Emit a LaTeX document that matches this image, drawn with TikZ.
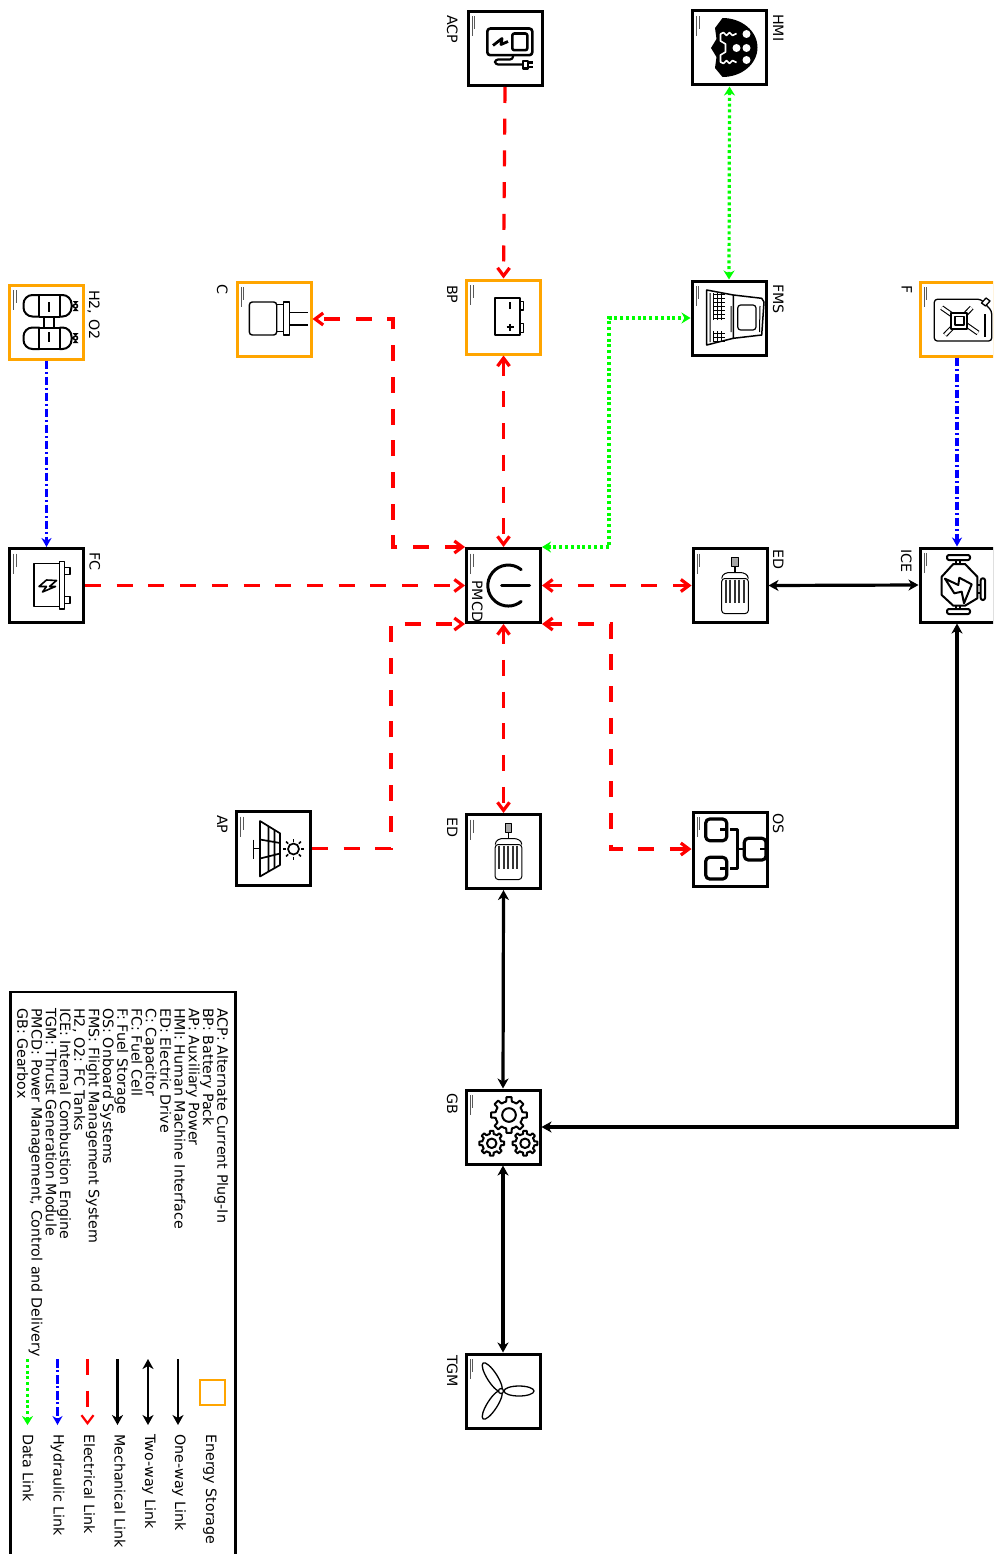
\documentclass[tikz,border=0pt]{standalone}
\usepackage{fontspec}
\setmainfont{DejaVu Sans}
\usetikzlibrary{arrows.meta}
\definecolor{storeorange}{HTML}{FFA500}
\tikzset{
  blackbox/.style={draw=black, line width=3pt, fill=white, minimum size=74pt, inner sep=0pt},
  storebox/.style={draw=storeorange, line width=3pt, fill=white, minimum size=74pt, inner sep=0pt},
  tag/.style={rotate=-90, anchor=base west, inner sep=0pt, font=\fontsize{14.26}{14.3}\selectfont},
  mechlink/.style={draw=black, line width=3.2pt, >={Stealth[length=10pt,width=11pt,inset=3pt]}},
  elink/.style={draw=red, line width=3.2pt, dash pattern=on 16pt off 15.7pt},
  hlink/.style={draw=blue, line width=3.2pt, dash pattern=on 8.6pt off 2.7pt on 2pt off 2.7pt, >={Stealth[length=9pt,width=10pt]}},
  dlink/.style={draw=green, line width=3.2pt, dash pattern=on 3pt off 2.8pt, >={Stealth[length=9pt,width=11pt]}},
  keyline/.style={line width=2.2pt},
  icon/.style={draw=black, line width=2pt, line join=round},
  credit/.style={draw=black!65, line width=1pt},
  creditmark/.pic={
    \draw[credit] (-33,-32) -- (-33,-12);
    \draw[credit] (-30.5,-32) -- (-30.5,-19);
  },
  plugicon/.pic={
    \draw[icon,line width=2.6pt,rounded corners=3pt] (-17.7,-20) rectangle (27.3,6.7);
    \draw[icon,line width=2.6pt,rounded corners=2pt] (7.3,-15) rectangle (22.3,1.7);
    \draw[icon,line width=2.8pt] (-12,-3) -- (-3,-10) -- (-4,-4) -- (3,-7);
    \draw[icon,line width=2.2pt,rounded corners=3pt] (8,6.7) -- (8,11) -- (-10,11) -- (-10,16) -- (18,16);
    \draw[icon,line width=2.2pt,fill=white] (18,12.5) rectangle (23,20);
    \draw[icon,line width=2.2pt] (23,14) -- (28,14) (23,18.5) -- (28,18.5);
  },
  headicon/.pic={
    \fill[black] (-7,-30) arc[start angle=90,end angle=-90,x radius=35pt,y radius=29.5pt]
      -- (-14.5,20) -- (-13,9) -- (-18.5,0) -- (-13,-9) -- (-14.5,-20) -- cycle;
    \draw[white,line width=1.6pt,line join=round] (-9,-14) -- (-6,-15.5) -- (-3,-12.5) -- (0,-15.5) -- (3,-12.5) -- (7,-14.5)
      (-9,-14) -- (-9,-7) -- (-4,-4) -- (-4,4) -- (-9,7) -- (-9,14)
      -- (-6,15.5) -- (-3,12.5) -- (0,15.5) -- (3,12.5) -- (7,14.5);
    \fill[white] (17,-14) circle[radius=4pt] (7,0) circle[radius=4pt] (17,0) circle[radius=4pt] (17,12) circle[radius=4pt];
  },
  tankicon/.pic={
    \draw[icon,rounded corners=9pt] (-7,-27) -- (-23,-27) -- (-23,-5.5) -- (-7,-5.5);
    \draw[icon,rounded corners=9pt] (-7,5.5) -- (-23,5.5) -- (-23,27) -- (-7,27);
    \draw[icon] (-7.5,-27) -- (-7.5,-5.5) (13,-27) -- (13,-5.5) (-7.5,5.5) -- (-7.5,27) (13,5.5) -- (13,27);
    \draw[icon] (-7.5,-27) -- (13,-27) (-7.5,-5.5) -- (13,-5.5) (-7.5,5.5) -- (13,5.5) (-7.5,27) -- (13,27);
    \draw[icon,rounded corners=9pt] (13,-27) -- (25,-27) -- (25,-5.5) -- (13,-5.5);
    \draw[icon,rounded corners=9pt] (13,5.5) -- (25,5.5) -- (25,27) -- (13,27);
    \draw[icon] (2.5,-20) -- (2.5,-10) (2.5,10) -- (2.5,20);
    \draw[icon] (-2.5,-5.5) -- (-2.5,5.5) (7,-5.5) -- (7,5.5);
    \draw[icon,line width=1.5pt] (25,-16) -- (29,-16) (25,16) -- (29,16);
    \draw[icon,line width=1.5pt,fill=white] (29,-16) circle[radius=2pt] (29,16) circle[radius=2pt];
    \fill[black] (26,-21) -- (32,-21) -- (29,-18) -- cycle (26,-11) -- (32,-11) -- (29,-14) -- cycle
      (26,11) -- (32,11) -- (29,14) -- cycle (26,21) -- (32,21) -- (29,18) -- cycle;
  },
  capicon/.pic={
    \draw[icon,line width=1.4pt,rounded corners=3pt] (2.7,-17) -- (-24.7,-17) -- (-24.7,16) -- (2.7,16) -- cycle;
    \draw[icon,line width=1.4pt] (2.7,-14.7) rectangle (9.3,12.7);
    \draw[icon,line width=1.4pt] (9.3,-17) rectangle (15.3,16);
    \draw[icon,line width=1.4pt] (15.3,-6.3) -- (34.3,-6.3) (15.3,6) -- (34.3,6);
  },
  batticon/.pic={
    \draw[icon] (-8.5,-19.3) rectangle (16,18);
    \draw[icon,line width=1.5pt] (16,-15.3) rectangle (20,-7) (16,6.3) rectangle (20,15.3);
    \draw[icon] (6.5,-14.7) -- (6.5,-7.7) (6.5,6.8) -- (6.5,13.8) (3,10.3) -- (10,10.3);
  },
  laptopicon/.pic={
    \draw[icon,line width=1.5pt] (4.3,-23) -- (-22.3,-28) -- (-22.3,27) -- (4.3,20.3) -- cycle;
    \draw[icon,line width=1.5pt] (4.3,-23) -- (32.7,-19.7) -- (35,-16) -- (32.7,17) -- (4.3,20.3);
    \draw[icon,line width=1.2pt,rounded corners=3pt] (8.7,-13) rectangle (27,12);
    \draw[icon,line width=1pt] (-19,-25) -- (-19,24) (2,-12) -- (2,14) (31,-12) -- (30.5,14);
    \draw[icon,line width=1pt,step=3.9pt] (-15.7,-24.7) grid (-4,2);
    \draw[icon,line width=1pt,step=3.9pt] (-15.7,13) grid (-4,23.7);
  },
  canicon/.pic={
    \draw[icon,line width=1.3pt,rounded corners=3pt] (-22.7,-19.7) -- (24,-19.7) -- (34.7,-8) -- (34.7,22) -- (-22.7,22) -- cycle;
    \draw[icon,line width=1.3pt,rounded corners=1pt] (28,-5) -- (28,18);
    \draw[icon,line width=1.3pt,fill=white] (24.5,-16) -- (29,-21) -- (33,-18) -- (28.5,-13) -- cycle;
    \draw[black,line width=5pt] (-15.3,-11.3) -- (21,14) (14.7,-11.3) -- (-12,16);
    \draw[white,line width=2.8pt] (-15.3,-11.3) -- (21,14) (14.7,-11.3) -- (-12,16);
    \draw[icon,line width=1.3pt,fill=white] (-6,-6) rectangle (10,10);
    \draw[icon,line width=1.3pt] (-2,-2.3) rectangle (7,6);
  },
  cellicon/.pic={
    \draw[icon,line width=1.6pt] (-12.5,-22) rectangle (13,21);
    \draw[icon,line width=1.6pt] (13,-24) rectangle (18,23.5);
    \draw[icon,line width=1.6pt] (18,-18) rectangle (23.5,-11) (18,11) rectangle (23.5,18);
    \draw[icon,line width=1.6pt] (10,-5) -- (0,-5.5) -- (-7.5,1) -- (0,1) -- (-4,6.5) -- (9,1) -- (3,1) -- cycle;
  },
  powericon/.pic={
    \draw[icon,line width=3pt,line cap=round] (17.7,-15.9) arc[start angle=51,end angle=309,radius=20.5pt];
    \draw[icon,line width=3pt,line cap=round] (-2,0) -- (26,0);
  },
  motoricon/.pic={
    \draw[icon,line width=1pt,fill=black!35] (1.7,-28) rectangle (8.3,-19.5);
    \draw[icon,line width=1.5pt] (5,-19.5) -- (5,-12.5);
    \draw[icon,line width=1pt] (-8.3,-7) .. controls (-8,-12) and (-3,-13) .. (0,-13) -- (10,-13) .. controls (14,-13) and (18,-11) .. (18.3,-7);
    \draw[icon,line width=1pt,rounded corners=3pt] (-8.3,-7) rectangle (18.3,28);
    \draw[black!80,line width=2pt] (-4.3,-6) -- (-4.3,17) (0,-6) -- (0,17) (4.6,-6) -- (4.6,17) (9,-6) -- (9,17) (13.5,-6) -- (13.5,17);
  },
  engineicon/.pic={
    \draw[icon] (-3.7,-21) -- (8,-21) -- (20.3,-8.3) -- (20.3,13.3) -- (8,20.7) -- (-3.7,20.7) -- (-15.3,10) -- (-15.3,-8.3) -- cycle;
    \draw[icon,rounded corners=2pt] (-10,-30) rectangle (13,-25) (-10,24) rectangle (13,29) (23.7,-6.7) rectangle (28,15);
    \draw[icon] (-1,-25) -- (-1,-21) (3,-25) -- (3,-21) (-1,24) -- (-1,20.7) (3,24) -- (3,20.7) (20.3,0) -- (23.7,0) (20.3,8) -- (23.7,8);
    \draw[icon] (-12,-6.3) -- (1.3,0) -- (2.3,-7.3) -- (14.7,-0.7) -- (7,18.3) -- (4.7,6.7) -- (-2.7,8.3) -- cycle;
  },
  solaricon/.pic={
    \draw[icon,line width=1.7pt] (-13.5,-27.5) -- (6.5,-15.2) -- (6.5,16.5) -- (-13.5,28) -- cycle;
    \draw[icon,line width=1.7pt] (-5,-22.5) -- (-5,23) (1,-18.5) -- (1,19.5) (-13.5,-9) -- (6.5,-5.5) (-13.5,10) -- (6.5,5);
    \draw[icon,line width=1.7pt] (-20,0) -- (-13.5,0) (-20,-9) -- (-20,10);
    \draw[icon,line width=1.7pt] (20,0.5) circle[radius=5.5pt];
    \foreach \a in {0,45,...,315} {
      \draw[icon,line width=1.5pt] (20,0.5) ++(\a:7.5) -- ++(\a:3);
    }
  },
  netboxicon/.pic={
    \draw[icon,line width=3.2pt,rounded corners=4pt] (-24.3,-30) rectangle (-3.3,-8.3) (-24.3,8.3) rectangle (-3.3,30) (14.3,-10.7) rectangle (36,11);
    \draw[icon,line width=2.8pt] (-10,-19.7) -- (-3.3,-19.7) (-10,19.3) -- (-3.3,19.3) (30,0) -- (36,0);
    \draw[icon,line width=2.8pt] (0,-19.7) -- (7.3,-19.7) -- (7.3,19.3) -- (0,19.3) (7.3,0) -- (13,0);
  },
  pics/cogwheel/.style={code={
    \draw[icon] (-22.5:{0.76*#1}) \foreach \a in {0,45,...,315} {
      -- ({\a-22.5}:{0.76*#1}) -- ({\a-12}:{0.76*#1}) -- ({\a-8}:{#1}) -- ({\a+8}:{#1}) -- ({\a+12}:{0.76*#1})
    } -- cycle;
    \draw[icon] (0,0) circle[radius={0.38*#1 pt}];
  }},
  fanicon/.pic={
    \draw[icon,line width=1.3pt] (16,0) ellipse[x radius=15pt,y radius=5pt];
    \draw[icon,line width=1.3pt,shift={(-10.7,-13.7)},rotate=122.6] (0,0) ellipse[x radius=17pt,y radius=5pt];
    \draw[icon,line width=1.3pt,shift={(-10.7,13.7)},rotate=237.4] (0,0) ellipse[x radius=17pt,y radius=5pt];
    \draw[icon,line width=1.3pt,fill=white] (-2,0) circle[radius=2.5pt];
  },
}
\begin{document}
\begin{tikzpicture}[x=1pt,y=-1pt,>={Straight Barb[length=8pt,width=12pt]}]
  \clip (0,0) rectangle (993,1554);

  \node[blackbox] (ACP)  at (505,48.5)   {};
  \node[blackbox] (HMI)  at (729.5,48)   {};
  \node[storebox] (TK)   at (46.5,322)   {};
  \node[storebox] (CAP)  at (274,319)    {};
  \node[storebox] (BP)   at (503.5,317)  {};
  \node[blackbox] (FMS)  at (729,318)    {};
  \node[storebox] (FS)   at (957,319)    {};
  \node[blackbox] (FC)   at (46.5,585.5) {};
  \node[blackbox] (PMCD) at (503.5,585.5) {};
  \node[blackbox] (EDA)  at (730,585.5)  {};
  \node[blackbox] (ICE)  at (957,585)    {};
  \node[blackbox] (AP)   at (273.5,848.5) {};
  \node[blackbox] (EDB)  at (503.5,851.5) {};
  \node[blackbox] (OS)   at (730,849)    {};
  \node[blackbox] (GB)   at (503,1127)   {};
  \node[blackbox] (TGM)  at (503,1391)   {};

  \pic at (ACP)  {plugicon};
  \pic at (HMI)  {headicon};
  \pic at (TK)   {tankicon};
  \pic at (CAP)  {capicon};
  \pic at (BP)   {batticon};
  \pic at (FMS)  {laptopicon};
  \pic at (FS)   {canicon};
  \pic at (FC)   {cellicon};
  \pic at (PMCD) {powericon};
  \pic at (EDA)  {motoricon};
  \pic at (ICE)  {engineicon};
  \pic at (AP)   {solaricon};
  \pic at (EDB)  {motoricon};
  \pic at (OS)   {netboxicon};
  \pic at ([shift={(6,-12)}]GB.center)    {cogwheel=18};
  \pic at ([shift={(-11.3,16.3)}]GB.center) {cogwheel=12.5};
  \pic at ([shift={(22,16.3)}]GB.center)  {cogwheel=12.5};
  \pic at (TGM)  {fanicon};

  \pic at (ACP)  {creditmark};
  \pic at (HMI)  {creditmark};
  \pic at (TK)   {creditmark};
  \pic at (CAP)  {creditmark};
  \pic at (BP)   {creditmark};
  \pic at (FMS)  {creditmark};
  \pic at (FS)   {creditmark};
  \pic at (FC)   {creditmark};
  \pic at (PMCD) {creditmark};
  \pic at (EDA)  {creditmark};
  \pic at (ICE)  {creditmark};
  \pic at (AP)   {creditmark};
  \pic at (EDB)  {creditmark};
  \pic at (OS)   {creditmark};
  \pic at (GB)   {creditmark};
  \pic at (TGM)  {creditmark};

  \node[tag] (tACP)  at (447,15)    {ACP};
  \node[tag] (tHMI)  at (773,14)    {HMI};
  \node[tag] (tTK)   at (89,290)    {H2, O2};
  \node[tag] (tCAP)  at (217,284)   {C};
  \node[tag] (tBP)   at (447,285)   {BP};
  \node[tag] (tFMS)  at (773,284)   {FMS};
  \node[tag] (tFS)   at (901.5,285) {F};
  \node[tag] (tFC)   at (89.5,552)  {FC};
  \node[tag] (tPMCD) at (472,580)   {PMCD};
  \node[tag] (tEDA)  at (773,549)   {ED};
  \node[tag] (tICE)  at (901,549)   {ICE};
  \node[tag] (tAP)   at (217,815)   {AP};
  \node[tag] (tEDB)  at (447,817)   {ED};
  \node[tag] (tOS)   at (773,813)   {OS};
  \node[tag] (tGB)   at (447,1093)  {GB};
  \node[tag] (tTGM)  at (447,1355)  {TGM};

  \coordinate (busC)   at (393,430);
  \coordinate (busFMS) at (609,430);
  \coordinate (busAP)  at (391,730);
  \coordinate (busOS)  at (611,730);

  \draw[elink,->] (ACP.south) -- (BP.north);
  \draw[dlink,<->] (HMI.south) -- (FMS.north);
  \draw[hlink,->] (TK.south) -- (FC.north);
  \draw[hlink,->] (FS.south) -- (ICE.north);
  \draw[elink,<->] (PMCD.north west) -| (busC) |- (CAP.east);
  \draw[elink,<->] (BP.south) -- (PMCD.north);
  \draw[dlink,<->] (PMCD.north east) -| (busFMS) |- (FMS.west);
  \draw[elink,->] (FC.east) -- (PMCD.west);
  \draw[elink,<->] (PMCD.east) -- (EDA.west);
  \draw[mechlink,<->] (EDA.east) -- (ICE.west);
  \draw[elink,->] (AP.east) -| (busAP) |- (PMCD.south west);
  \draw[elink,<->] (PMCD.south east) -| (busOS) |- (OS.west);
  \draw[elink,<->] (PMCD.south) -- (EDB.north);
  \draw[mechlink,<->] (EDB.south) -- (GB.north);
  \draw[mechlink,<->] (GB.south) -- (TGM.north);
  \draw[mechlink,<->] (ICE.south) |- (GB.east);

  \node[draw=black, line width=2.5pt, minimum width=225pt, minimum height=600pt, inner sep=0pt, anchor=north west] (keyframe) at (9,990.5) {};
  \node[rotate=-90, anchor=north west, inner sep=0pt, align=left, font=\fontsize{14.26}{14.3}\selectfont] (keytext) at (228.5,1008) {
    ACP: Alternate Current Plug-In\\
    BP: Battery Pack\\
    AP: Auxiliary Power\\
    HMI: Human Machine Interface\\
    ED: Electric Drive\\
    C: Capacitor\\
    FC: Fuel Cell\\
    F: Fuel Storage\\
    OS: Onboard Systems\\
    FMS: Flight Management System\\
    H2, O2: FC Tanks\\
    ICE: Internal Combustion Engine\\
    TGM: Thrust Generation Module\\
    PMCD: Power Management, Control and Delivery\\
    GB: Gearbox};

  \node[storebox, line width=2.4pt, fill=none, minimum size=25.5pt] (keystore) at (212.5,1392.5) {};
  \coordinate (oneS)  at (178,1359);   \coordinate (oneE)  at (178,1425);
  \coordinate (twoS)  at (148,1359);   \coordinate (twoE)  at (148,1425);
  \coordinate (mechS) at (117.5,1359); \coordinate (mechE) at (117.5,1425);
  \coordinate (elecS) at (87.5,1359);  \coordinate (elecE) at (87.5,1425);
  \coordinate (hydS)  at (57.5,1359);  \coordinate (hydE)  at (57.5,1425);
  \coordinate (dataS) at (27.5,1359);  \coordinate (dataE) at (27.5,1425);
  \draw[mechlink,keyline,->]  (oneS) -- (oneE);
  \draw[mechlink,keyline,<->] (twoS) -- (twoE);
  \draw[mechlink,keyline,->]  (mechS) -- (mechE);
  \draw[elink,keyline,->]     (elecS) -- (elecE);
  \draw[hlink,keyline,->]     (hydS) -- (hydE);
  \draw[dlink,keyline,->]     (dataS) -- (dataE);

  \node[tag] (kStore) at (206,1434)   {Energy Storage};
  \node[tag] (kOne)   at (175,1434)   {One-way Link};
  \node[tag] (kTwo)   at (145,1434)   {Two-way Link};
  \node[tag] (kMech)  at (114.5,1434) {Mechanical Link};
  \node[tag] (kElec)  at (84,1434)    {Electrical Link};
  \node[tag] (kHyd)   at (53.5,1434)  {Hydraulic Link};
  \node[tag] (kData)  at (23,1434)    {Data Link};
\end{tikzpicture}
\end{document}
